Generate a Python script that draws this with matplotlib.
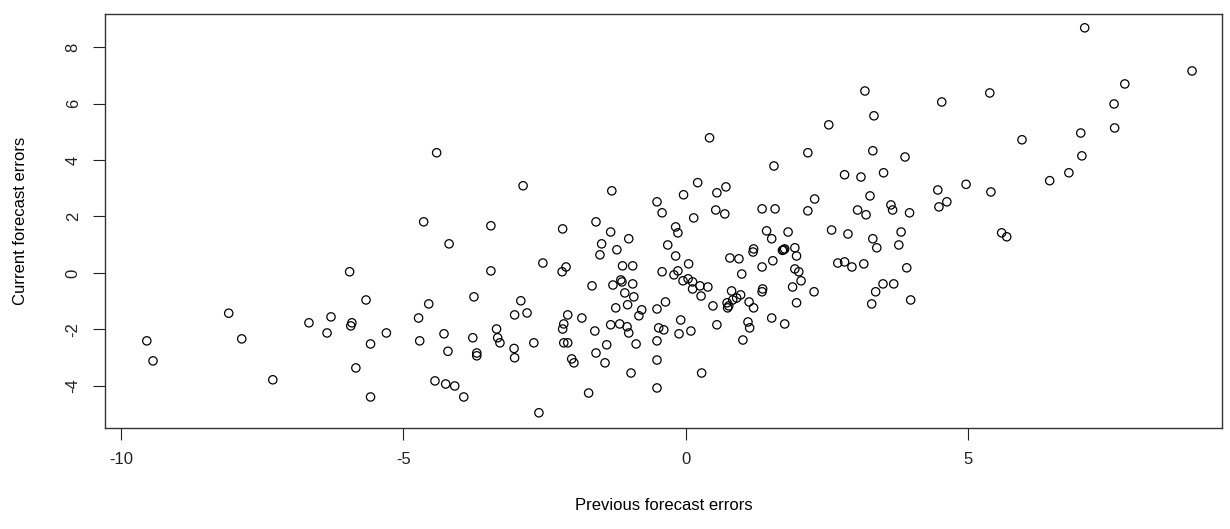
import matplotlib
matplotlib.use("Agg")
import matplotlib.pyplot as plt

plt.rcParams['font.family'] = ['Liberation Sans', 'DejaVu Sans']
plt.rcParams['axes.unicode_minus'] = False

# lagged forecast errors: previous (x) vs current (y)
prev_err = [
    -9.54, -9.43, -8.09, -7.86, -7.31, -6.67, -6.28, -6.35, -5.95, -5.91,
    -5.93, -5.66, -5.58, -5.84, -5.58, -5.30, -4.73, -4.71, -4.64, -4.55,
    -4.41, -4.44, -4.28, -4.25, -4.21, -4.19, -4.09, -3.93, -3.77, -3.75,
    -3.70, -3.70, -3.45, -3.45, -3.35, -3.33, -3.29, -3.04, -3.03, -3.03,
    -2.92, -2.88, -2.81, -2.69, -2.60, -2.53, -2.19, -2.18, -2.18, -2.16,
    -2.16, -2.12, -2.09, -2.09, -2.02, -1.98, -1.84, -1.72, -1.66, -1.61,
    -1.59, -1.59, -1.52, -1.49, -1.43, -1.40, -1.33, -1.33, -1.31, -1.29,
    -1.24, -1.22, -1.17, -1.15, -1.13, -1.12, -1.08, -1.04, -1.03, -1.01,
    -1.01, -0.97, -0.94, -0.94, -0.92, -0.88, -0.83, -0.78, -0.51, -0.51,
    -0.51, -0.51, -0.51, -0.48, -0.42, -0.42, -0.39, -0.36, -0.32, -0.21,
    -0.18, -0.18, -0.14, -0.14, -0.12, -0.09, -0.05, -0.04, 0.04, 0.05,
    0.09, 0.12, 0.12, 0.14, 0.21, 0.25, 0.27, 0.28, 0.39, 0.42,
    0.48, 0.53, 0.55, 0.55, 0.69, 0.71, 0.73, 0.74, 0.76, 0.78,
    0.81, 0.83, 0.90, 0.94, 0.97, 0.99, 1.01, 1.10, 1.12, 1.13,
    1.19, 1.20, 1.20, 1.35, 1.35, 1.35, 1.36, 1.43, 1.52, 1.52,
    1.54, 1.56, 1.58, 1.73, 1.75, 1.71, 1.75, 1.81, 1.89, 1.93,
    1.93, 1.96, 1.96, 2.00, 2.04, 2.16, 2.16, 2.27, 2.28, 2.53,
    2.58, 2.69, 2.81, 2.81, 2.87, 2.94, 3.04, 3.10, 3.15, 3.17,
    3.19, 3.26, 3.29, 3.31, 3.31, 3.33, 3.36, 3.38, 3.49, 3.50,
    3.63, 3.66, 3.68, 3.77, 3.81, 3.88, 3.91, 3.96, 3.98, 4.46,
    4.48, 4.53, 4.62, 4.96, 5.38, 5.40, 5.59, 5.68, 5.95, 6.44,
    6.78, 6.99, 7.01, 7.06, 7.58, 7.59, 7.77, 8.96,
]
curr_err = [
    -2.41, -3.12, -1.43, -2.34, -3.79, -1.77, -1.56, -2.13, 0.04, -1.77,
    -1.88, -0.96, -2.52, -3.37, -4.40, -2.13, -1.60, -2.41, 1.81, -1.10,
    4.26, -3.83, -2.16, -3.94, -2.78, 1.03, -4.01, -4.40, -2.30, -0.85,
    -2.84, -2.94, 1.67, 0.07, -1.99, -2.30, -2.48, -2.68, -1.49, -3.01,
    -0.99, 3.09, -1.42, -2.48, -4.96, 0.35, 0.04, 1.56, -1.99, -1.81,
    -2.48, 0.21, -1.49, -2.48, -3.05, -3.19, -1.60, -4.26, -0.46, -2.06,
    1.81, -2.84, 0.64, 1.03, -3.19, -2.55, 1.45, -1.84, 2.91, -0.43,
    -1.24, 0.82, -1.81, -0.25, -0.32, 0.25, -0.71, -1.91, -1.13, 1.21,
    -2.13, -3.55, 0.25, -0.39, -0.85, -2.52, -1.52, -1.31, 2.52, -1.28,
    -2.41, -3.09, -4.08, -1.95, 2.13, 0.04, -2.02, -1.03, 0.99, -0.07,
    1.63, 0.60, 1.42, 0.07, -2.16, -1.67, -0.28, 2.77, -0.21, 0.32,
    -2.06, -0.32, -0.57, 1.95, 3.20, -0.46, -0.82, -3.55, -0.50, 4.79,
    -1.17, 2.23, 2.84, -1.84, 2.09, 3.05, -1.06, -1.24, -1.17, 0.53,
    -0.64, -0.96, -0.89, 0.50, -0.78, -0.04, -2.38, -1.74, -1.03, -1.95,
    0.74, 0.85, -1.24, 2.27, 0.21, -0.67, -0.57, 1.49, 1.21, -1.60,
    0.43, 3.79, 2.27, 0.82, 0.85, 0.80, -1.81, 1.45, -0.50, 0.89,
    0.14, 0.60, -1.06, 0.04, -0.28, 4.26, 2.20, -0.67, 2.62, 5.25,
    1.52, 0.35, 3.48, 0.39, 1.38, 0.21, 2.23, 3.40, 0.32, 6.45,
    2.06, 2.73, -1.10, 4.33, 1.21, 5.57, -0.67, 0.89, -0.39, 3.55,
    2.41, 2.23, -0.39, 0.99, 1.45, 4.11, 0.18, 2.13, -0.96, 2.94,
    2.34, 6.06, 2.52, 3.14, 6.38, 2.87, 1.42, 1.28, 4.72, 3.27,
    3.55, 4.96, 4.15, 8.69, 5.99, 5.14, 6.70, 7.16,
]

fig = plt.figure(figsize=(12.3, 5.29), dpi=100)
ax = fig.add_axes([105 / 1230, 1 - 428 / 529, (1222 - 105) / 1230, (428 - 14) / 529])

ax.scatter(prev_err, curr_err, s=36, facecolors='none', edgecolors='black', linewidths=0.9)

ax.set_xlim(-10.28, 9.49)
ax.set_ylim(-5.50, 9.18)
ax.set_xticks([-10, -5, 0, 5])
ax.set_yticks([-4, -2, 0, 2, 4, 6, 8])
ax.tick_params(direction='out', length=8.5, width=0.8, labelsize=12, pad=9, colors='#222222')
for lab in ax.get_yticklabels():
    lab.set_rotation(90)
    lab.set_va('center')
for sp in ax.spines.values():
    sp.set_linewidth(1.0)
    sp.set_color('#333333')

ax.set_xlabel('Previous forecast errors', fontsize=12, labelpad=22)
ax.set_ylabel('Current forecast errors', fontsize=12, labelpad=27)

fig.savefig('out.png', dpi=100)
